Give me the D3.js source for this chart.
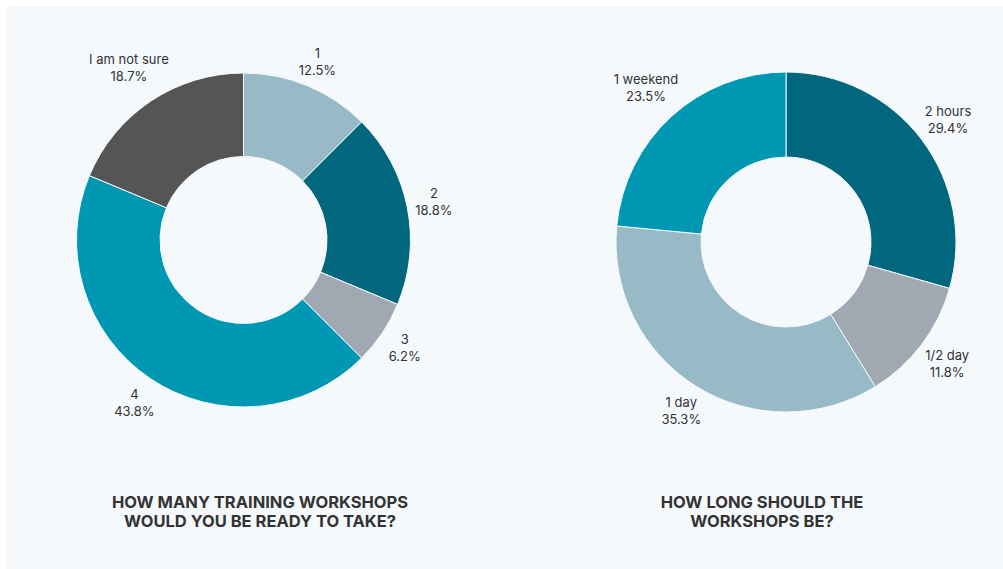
<!DOCTYPE html>
<html>
<head>
<meta charset="utf-8">
<script src="https://cdn.jsdelivr.net/npm/d3@7/dist/d3.min.js"></script>
<style>
  html, body { margin: 0; padding: 0; background: #ffffff; }
  svg { display: block; font-family: Inter, "Noto Sans", sans-serif; }
</style>
</head>
<body>
<svg id="chart" width="1003" height="569"></svg>
<script>
// Survey answers: number of workshops
const workshopCategories = ["1", "2", "3", "4", "I am not sure"];
const workshopValues = [12.5, 18.8, 6.2, 43.8, 18.7];
const workshopColors = ["#97bac6", "#00677f", "#a0a8b2", "#0097b2", "#555555"];
const workshopTitle = ["HOW MANY TRAINING WORKSHOPS", "WOULD YOU BE READY TO TAKE?"];

// Survey answers: workshop length
const lengthCategories = ["2 hours", "1/2 day", "1 day", "1 weekend"];
const lengthValues = [29.4, 11.8, 35.3, 23.5];
const lengthColors = ["#00677f", "#a0a8b2", "#97bac6", "#0097b2"];
const lengthTitle = ["HOW LONG SHOULD THE", "WORKSHOPS BE?"];

const svg = d3.select("#chart");
const bg = "#f5f9fc";

svg.append("rect")
  .attr("x", 7).attr("y", 7)
  .attr("width", 996).attr("height", 562)
  .attr("fill", bg);

function donut(opts) {
  const { cx, cy, r, cats, vals, colors, title, titleX } = opts;
  const g = svg.append("g").attr("transform", `translate(${cx},${cy})`);
  const data = cats.map((c, i) => ({ cat: c, val: vals[i], color: colors[i] }));
  const pie = d3.pie().value(d => d.val).sort(null);
  const arc = d3.arc().innerRadius(r * 0.5).outerRadius(r);
  const arcs = pie(data);

  g.selectAll("path.slice").data(arcs).join("path")
    .attr("class", "slice")
    .attr("d", arc)
    .attr("fill", d => d.data.color)
    .attr("stroke", bg)
    .attr("stroke-width", 1);

  // two-line labels pushed just outside the ring along each slice's bisector
  const lineH = 17;
  const labelR = r + 6;
  arcs.forEach(a => {
    const mid = (a.startAngle + a.endAngle) / 2;
    const dx = Math.sin(mid), dy = -Math.cos(mid);
    const t = g.append("text")
      .attr("text-anchor", "middle")
      .attr("font-size", 13)
      .attr("fill", "#333333");
    t.append("tspan").attr("x", 0).attr("dy", 0).text(a.data.cat);
    t.append("tspan").attr("x", 0).attr("dy", lineH).text(d3.format(".1f")(a.data.val) + "%");
    const w = t.node().getBBox().width;
    const h = lineH * 2 - 6;
    const push = Math.abs(dx) * w / 2 + Math.abs(dy) * h / 2;
    const dist = labelR + push;
    const x = dist * dx, y = dist * dy;
    t.attr("transform", `translate(${x},${y - lineH + 13})`);
  });

  const tt = svg.append("text")
    .attr("text-anchor", "middle")
    .attr("font-size", 16.5)
    .attr("font-weight", 700)
    .attr("fill", "#333333");
  title.forEach((line, i) => {
    tt.append("tspan").attr("x", titleX).attr("y", 508 + i * 19).text(line);
  });
}

donut({ cx: 243.5, cy: 240, r: 167, cats: workshopCategories, vals: workshopValues,
        colors: workshopColors, title: workshopTitle, titleX: 260 });
donut({ cx: 786, cy: 242, r: 170, cats: lengthCategories, vals: lengthValues,
        colors: lengthColors, title: lengthTitle, titleX: 762 });
</script>
</body>
</html>
